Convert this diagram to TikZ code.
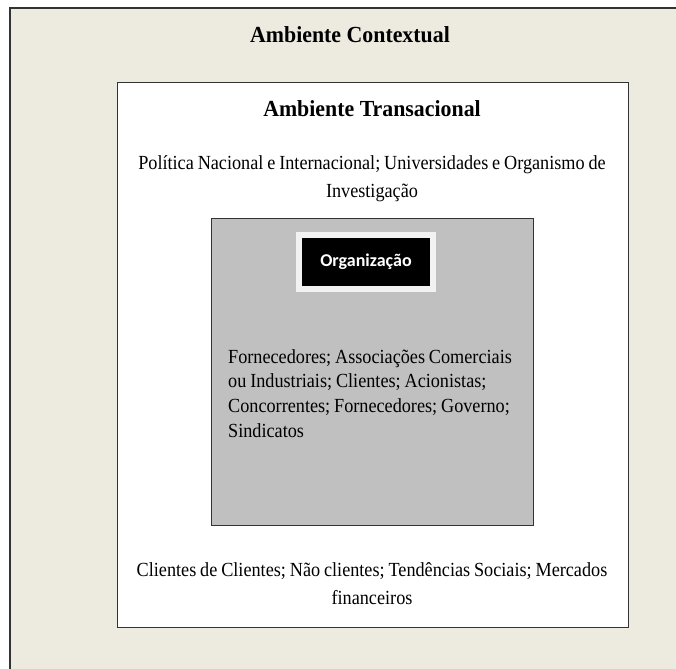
\documentclass[tikz,border=0pt]{standalone}
\usepackage{fontspec}
\setmainfont[FakeStretch=0.91, WordSpace=0.85]{Liberation Serif}
\newfontfamily\titlefont[FakeStretch=0.95]{Liberation Serif}
\newfontfamily\orgfont{Carlito}
\usetikzlibrary{positioning,shadows}

\definecolor{contextbg}{HTML}{EDEAE0}
\definecolor{orgbg}{HTML}{C0C0C0}
\definecolor{framegray}{HTML}{F2F2F2}

\tikzset{
  envbox/.style={draw=black!80, line width=1.2pt, inner sep=0pt},
  title/.style={font=\titlefont\fontsize{23}{26}\selectfont\bfseries},
  bodytext/.style={font=\fontsize{20}{28}\selectfont, align=center},
}

\begin{document}
\begin{tikzpicture}[x=1pt,y=-1pt]
\useasboundingbox (0,0) rectangle (676,668);
\fill[white] (0,0) rectangle (676,668);
% environment boxes
\draw[envbox, fill=contextbg] (10,8) rectangle (690,690);
\node[envbox, fill=white, minimum width=511pt, minimum height=545pt, anchor=north west] (trans) at (117,82) {};
\node[envbox, fill=orgbg, minimum width=322pt, minimum height=307pt, anchor=north west] (org) at (211,218) {};

\node[title] (ctxtitle) at (350,35) {Ambiente Contextual};
\node[title] (transtitle) at (372,109) {Ambiente Transacional};

\node[bodytext] (global) at (372,179) {Política Nacional e Internacional; Universidades e Organismo de\\ Investigação};
\node[bodytext] (market) at (372,584) {Clientes de Clientes; Não clientes; Tendências Sociais; Mercados\\ financeiros};

% organizacao label
\node[fill=black, draw=framegray, line width=6pt, minimum width=134pt, minimum height=54pt,
      drop shadow={shadow xshift=2pt, shadow yshift=-3pt, fill=black!35},
      text=white, font=\orgfont\fontsize{18}{20}\selectfont\bfseries] (label) at (366,262) {Organização};

\node[font=\fontsize{20}{24.6}\selectfont, align=left, inner sep=0pt, anchor=base west] (actors) at (228,437)
  {Fornecedores; Associações Comerciais\\ ou Industriais; Clientes; Acionistas;\\ Concorrentes; Fornecedores; Governo;\\ Sindicatos};
\end{tikzpicture}
\end{document}
